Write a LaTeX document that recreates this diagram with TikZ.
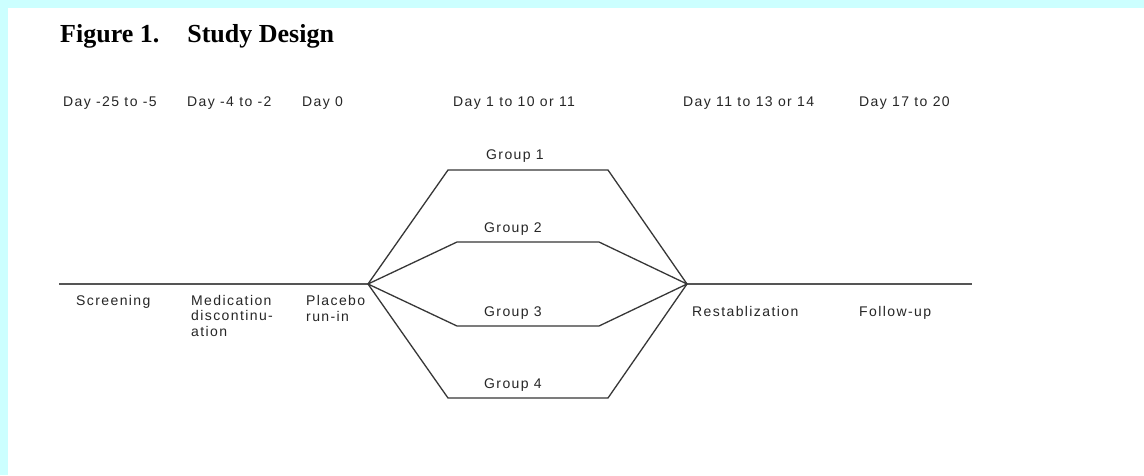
\documentclass[tikz,border=0pt]{standalone}
\usepackage{fontspec}
\usetikzlibrary{positioning}
\newfontfamily\lblfont[LetterSpace=10]{Liberation Sans}
\newfontfamily\headfont{Liberation Serif}
\definecolor{framecyan}{RGB}{204, 255, 255}
\definecolor{lineink}{RGB}{55, 55, 55}
\tikzset{
  daylbl/.style    = {font=\lblfont\fontsize{14}{15.5}\selectfont, inner sep=0pt, anchor=base west, text=black!85},
  phaselbl/.style  = {font=\lblfont\fontsize{14}{15.5}\selectfont, inner sep=0pt, anchor=base west, align=left, text=black!85},
  grouplbl/.style  = {font=\lblfont\fontsize{14}{15.5}\selectfont, inner sep=0pt, anchor=base, text=black!85},
  timeline/.style  = {line width=1.7pt, lineink!85},
  branch/.style    = {line width=1.3pt, lineink},
}

\begin{document}
\begin{tikzpicture}[x=1pt, y=-1pt]

% background and frame
\useasboundingbox (0,0) rectangle (1144,475);
\fill[white] (0,0) rectangle (1144,475);
\fill[framecyan] (0,0) rectangle (1144,8);
\fill[framecyan] (0,0) rectangle (7.5,475);

% title
\node[font=\headfont\bfseries\fontsize{26}{30}\selectfont, inner sep=0pt, anchor=base west] (title) at (60,42) {Figure 1.\hspace{28pt}Study Design};

% day labels
\node[daylbl] (day_screen) at (63,106) {Day -25 to -5};
\node[daylbl] (day_disc) at (187,106) {Day -4 to -2};
\node[daylbl] (day_zero) at (302,106) {Day 0};
\node[daylbl] (day_treat) at (453,106) {Day 1 to 10 or 11};
\node[daylbl] (day_restab) at (683,106) {Day 11 to 13 or 14};
\node[daylbl] (day_follow) at (859,106) {Day 17 to 20};

% timeline points
\coordinate (start) at (59,284);
\coordinate (split) at (368,284);
\coordinate (merge) at (687,284);
\coordinate (stop) at (972,284);

% group corners
\coordinate (g1l) at (448,170);
\coordinate (g1r) at (608,170);
\coordinate (g2l) at (457,242);
\coordinate (g2r) at (599,242);
\coordinate (g3l) at (457,326);
\coordinate (g3r) at (599,326);
\coordinate (g4l) at (448,398);
\coordinate (g4r) at (608,398);

% group labels
\node[grouplbl] (grp1) at (515,159) {Group 1};
\node[grouplbl] (grp2) at (513,232) {Group 2};
\node[grouplbl] (grp3) at (513,316) {Group 3};
\node[grouplbl] (grp4) at (513,388) {Group 4};

% phase labels (multi-line ones sit on their last baseline)
\node[phaselbl] (screening) at (76,305) {Screening};
\node[phaselbl] (discont) at (191,336) {Medication\\discontinu-\\ation};
\node[phaselbl] (placebo) at (306,321) {Placebo\\run-in};
\node[phaselbl] (restab) at (692,316) {Restablization};
\node[phaselbl] (followup) at (859,316) {Follow-up};

% lines
\draw[timeline] (start) -- (split);
\draw[timeline] (merge) -- (stop);
\draw[branch] (split) -- (g1l) -- (g1r) -- (merge);
\draw[branch] (split) -- (g2l) -- (g2r) -- (merge);
\draw[branch] (split) -- (g3l) -- (g3r) -- (merge);
\draw[branch] (split) -- (g4l) -- (g4r) -- (merge);

\end{tikzpicture}
\end{document}
